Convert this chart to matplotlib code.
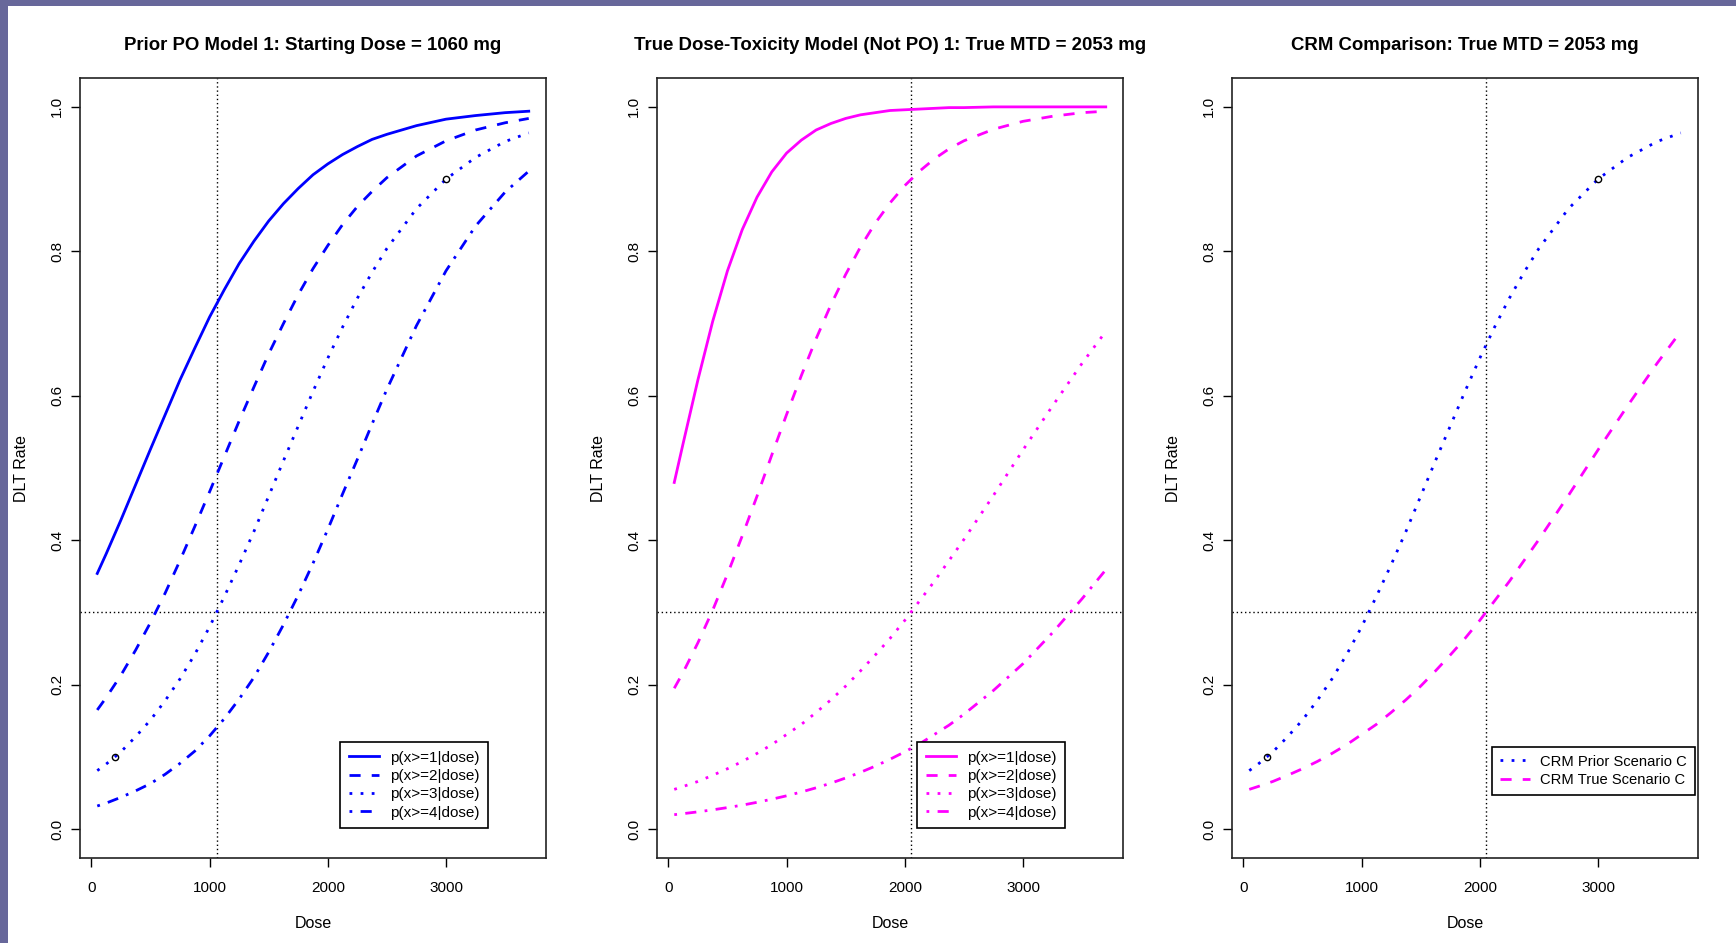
import matplotlib
matplotlib.use("Agg")
import matplotlib.pyplot as plt
from matplotlib.patches import Rectangle

plt.rcParams['font.family'] = ['Liberation Sans', 'DejaVu Sans']

# ---------------- data ----------------
dose = [50, 125, 250, 375, 500, 625, 750, 875, 1000, 1125, 1250, 1375, 1500, 1625,
        1750, 1875, 2000, 2125, 2250, 2375, 2500, 2750, 3000, 3250, 3500, 3700]

# Panel 1: prior PO model (blue)
prior_p1 = [0.354, 0.381, 0.428, 0.477, 0.526, 0.574, 0.622, 0.666, 0.709, 0.747, 0.783, 0.814, 0.842,
            0.866, 0.887, 0.906, 0.921, 0.934, 0.945, 0.955, 0.962, 0.974, 0.983, 0.988, 0.992, 0.994]
prior_p2 = [0.165, 0.182, 0.213, 0.248, 0.286, 0.327, 0.372, 0.419, 0.467, 0.516, 0.565, 0.612, 0.658,
            0.700, 0.740, 0.776, 0.808, 0.837, 0.862, 0.883, 0.902, 0.932, 0.953, 0.968, 0.978, 0.984]
prior_p3 = [0.081, 0.090, 0.107, 0.128, 0.151, 0.178, 0.208, 0.242, 0.280, 0.322, 0.366, 0.412, 0.461,
            0.510, 0.558, 0.606, 0.652, 0.695, 0.735, 0.771, 0.804, 0.859, 0.900, 0.930, 0.952, 0.964]
prior_p4 = [0.032, 0.036, 0.044, 0.053, 0.063, 0.076, 0.091, 0.108, 0.129, 0.153, 0.180, 0.210, 0.245,
            0.283, 0.324, 0.368, 0.415, 0.464, 0.512, 0.561, 0.609, 0.697, 0.773, 0.835, 0.882, 0.911]

# Panel 2: true dose-toxicity model (magenta)
true_p1 = [0.480, 0.534, 0.622, 0.703, 0.773, 0.830, 0.875, 0.910, 0.936, 0.954, 0.968, 0.977, 0.984,
           0.989, 0.992, 0.995, 0.996, 0.997, 0.998, 0.999, 0.999, 1.000, 1.000, 1.000, 1.000, 1.000]
true_p2 = [0.195, 0.217, 0.258, 0.303, 0.353, 0.406, 0.461, 0.518, 0.574, 0.628, 0.679, 0.726, 0.768,
           0.806, 0.839, 0.867, 0.891, 0.911, 0.928, 0.942, 0.953, 0.969, 0.980, 0.987, 0.992, 0.994]
true_p3 = [0.055, 0.059, 0.066, 0.0745, 0.0836, 0.0936, 0.1048, 0.117, 0.131, 0.145, 0.1615, 0.179, 0.198,
           0.219, 0.241, 0.264, 0.289, 0.316, 0.343, 0.372, 0.401, 0.462, 0.525, 0.586, 0.645, 0.689]
true_p4 = [0.0200, 0.0214, 0.0239, 0.0267, 0.0298, 0.0332, 0.0371, 0.0414, 0.0461, 0.0514, 0.0572, 0.0636,
           0.0708, 0.0786, 0.0872, 0.0967, 0.107, 0.118, 0.131, 0.144, 0.159, 0.192, 0.229, 0.272, 0.319, 0.359]

# Skeleton points marked with open circles
skel_dose = [200, 3000]
skel_rate = [0.10, 0.90]

start_dose = 1060
true_mtd = 2053
target_rate = 0.3

titles = ["Prior PO Model 1: Starting Dose = 1060 mg",
          "True Dose-Toxicity Model (Not PO) 1: True MTD = 2053 mg",
          "CRM Comparison: True MTD = 2053 mg"]
labels4 = ["p(x>=1|dose)", "p(x>=2|dose)", "p(x>=3|dose)", "p(x>=4|dose)"]
labels_crm = ["CRM Prior Scenario C", "CRM True Scenario C"]
xticks = [0, 1000, 2000, 3000]
yticks = [0.0, 0.2, 0.4, 0.6, 0.8, 1.0]

# ---------------- styles ----------------
BLUE = "#0000FF"
MAG = "#FF00FF"
LW = 2.0
styles = ["-", (0, (4, 4)), (0, (1, 3)), (0, (1, 3, 4, 3))]
REF = dict(color="black", lw=1.0, linestyle=(0, (1, 2)))

W, H = 1736, 943
fig = plt.figure(figsize=(W / 100, H / 100), dpi=100, facecolor="white")

# purple border (top and left)
fig.patches.append(Rectangle((0, 1 - 6 / H), 1, 6 / H, transform=fig.transFigure,
                             facecolor="#67679A", edgecolor="none", zorder=10))
fig.patches.append(Rectangle((0, 0), 8 / W, 1, transform=fig.transFigure,
                             facecolor="#67679A", edgecolor="none", zorder=10))

lefts = [80, 657, 1232]
ax_w, ax_top, ax_bot = 466, 78, 858
axes = []
for i, l in enumerate(lefts):
    ax = fig.add_axes([l / W, (H - ax_bot) / H, ax_w / W, (ax_bot - ax_top) / H])
    ax.set_xlim(-96, 3846)
    ax.set_ylim(-0.04, 1.04)
    ax.set_xticks(xticks)
    ax.set_xticklabels([str(t) for t in xticks])
    ax.set_yticks(yticks)
    ax.set_yticklabels(["%.1f" % t for t in yticks], rotation=90, va="center")
    ax.tick_params(axis="both", direction="out", length=6.5, width=1.0, labelsize=11,
                   colors="black")
    ax.tick_params(axis="x", pad=10)
    ax.tick_params(axis="y", pad=5)
    for s in ax.spines.values():
        s.set_linewidth(1.2)
        s.set_color("#222222")
    ax.set_title(titles[i], fontsize=13.4, fontweight="bold", pad=20)
    ax.set_xlabel("Dose", fontsize=11.5, labelpad=15)
    ax.set_ylabel("DLT Rate", fontsize=11.5, labelpad=15)
    ax.axhline(target_rate, **REF, zorder=1)
    axes.append(ax)

leg_kw = dict(loc="lower right", frameon=True, fancybox=False,
              edgecolor="black", framealpha=1, handlelength=2.0, handletextpad=0.7,
              labelspacing=0.28, borderpad=0.55, borderaxespad=0)

# Panel 1
ax = axes[0]
ax.axvline(start_dose, **REF, zorder=1)
for ys, st, lab in zip([prior_p1, prior_p2, prior_p3, prior_p4], styles, labels4):
    ax.plot(dose, ys, color=BLUE, lw=LW, linestyle=st, label=lab)
ax.plot(skel_dose, skel_rate, "o", mfc="none", mec="black", mew=1.0, ms=4.5)
lg = ax.legend(bbox_to_anchor=(0.8755, 0.0385), fontsize=11, **leg_kw)
lg.get_frame().set_linewidth(1.2)

# Panel 2
ax = axes[1]
ax.axvline(true_mtd, **REF, zorder=1)
for ys, st, lab in zip([true_p1, true_p2, true_p3, true_p4], styles, labels4):
    ax.plot(dose, ys, color=MAG, lw=LW, linestyle=st, label=lab)
lg = ax.legend(bbox_to_anchor=(0.8755, 0.0385), fontsize=11, **leg_kw)
lg.get_frame().set_linewidth(1.2)

# Panel 3
ax = axes[2]
ax.axvline(true_mtd, **REF, zorder=1)
ax.plot(dose, prior_p3, color=BLUE, lw=LW, linestyle=styles[2], label=labels_crm[0])
ax.plot(dose, true_p3, color=MAG, lw=LW, linestyle=styles[1], label=labels_crm[1])
ax.plot(skel_dose, skel_rate, "o", mfc="none", mec="black", mew=1.0, ms=4.5)
lg = ax.legend(bbox_to_anchor=(0.9936, 0.081), fontsize=10.6, **leg_kw)
lg.get_frame().set_linewidth(1.2)

fig.savefig("out.png", dpi=100, facecolor="white")
